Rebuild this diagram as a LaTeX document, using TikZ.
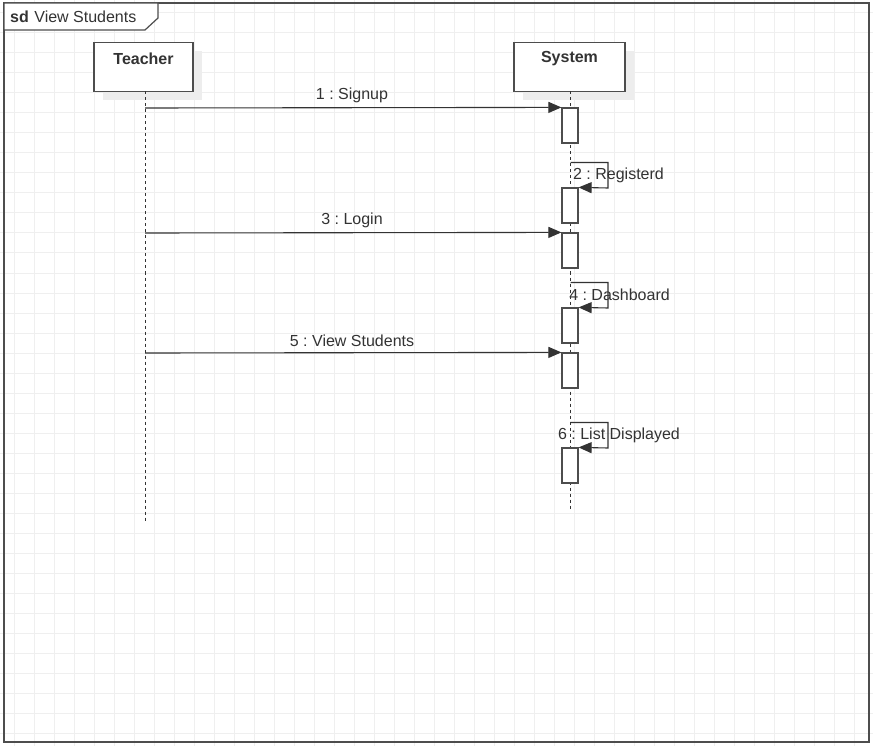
\documentclass[tikz,border=0pt]{standalone}
\usepackage{fontspec}
\setmainfont{Liberation Sans}
\usetikzlibrary{arrows.meta}
\definecolor{gridc}{HTML}{EFEFEF}
\definecolor{ink}{HTML}{333333}
\definecolor{framec}{HTML}{4D4D4D}
\definecolor{shadowc}{HTML}{EDEDED}
\frenchspacing
\begin{document}
\begin{tikzpicture}[x=1pt,y=-1pt,
  every node/.style={font=\fontsize{16pt}{19pt}\selectfont, text=ink},
  headbox/.style={draw=framec, line width=1.2pt, fill=white, minimum width=99pt, minimum height=49pt, inner sep=0pt},
  headshadow/.style={fill=shadowc, draw=none, minimum width=99pt, minimum height=49pt, inner sep=0pt},
  actbox/.style={draw=framec, line width=1.2pt, fill=white, minimum width=16pt, minimum height=35pt, inner sep=0pt},
  lifeline/.style={draw=ink, line width=1pt, dash pattern=on 3pt off 3pt},
  msg/.style={draw=ink, line width=1.1pt, -{Triangle[length=13pt,width=11pt]}},
  msglabel/.style={inner sep=0pt, anchor=center}
]
\useasboundingbox (0,0) rectangle (873,746);
\fill[white] (0,0) rectangle (873,746);
% background grid
\foreach \gx in {14,34,...,874} \draw[gridc, line width=1pt] (\gx,0) -- (\gx,746);
\foreach \gy in {13,33,...,746} \draw[gridc, line width=1pt] (0,\gy) -- (873,\gy);

% sequence frame with its name tab
\draw[framec, line width=1.5pt] (4,3) rectangle (869,742);
\draw[framec, line width=1.2pt, fill=white] (4,3) -- (158,3) -- (158,18) -- (145,30) -- (4,30) -- cycle;
\node[anchor=west, inner sep=0pt] (title) at (10,16.5) {\textbf{sd}\hspace{5.5pt}View Students};

% lifeline heads
\node[headshadow] at (152.5,76) {};
\node[headbox] (teacher) at (143.5,67) {};
\node[font=\fontsize{16pt}{19pt}\selectfont\bfseries, inner sep=0pt] (tlabel) at (143.5,59) {Teacher};
\node[headshadow, minimum width=111pt] at (578.5,76) {};
\node[headbox, minimum width=111pt] (system) at (569.5,67) {};
\node[font=\fontsize{16pt}{19pt}\selectfont\bfseries, inner sep=0pt] (slabel) at (569.5,59) {System};

% lifelines
\coordinate (tend) at (145,521);
\coordinate (send) at (570.5,510);
\draw[lifeline] (145,91.5) -- (tend);
\draw[lifeline] (570.5,91.5) -- (send);

% activation bars
\node[actbox] (a1) at (570,125.5) {};
\node[actbox] (a2) at (570,205.5) {};
\node[actbox] (a3) at (570,250.5) {};
\node[actbox] (a4) at (570,325.5) {};
\node[actbox] (a5) at (570,370.5) {};
\node[actbox] (a6) at (570,465.5) {};

% messages from Teacher
\coordinate (m1) at (145,108);
\coordinate (m3) at (145,233);
\coordinate (m5) at (145,353);
\draw[msg] (m1) -- (a1.north west);
\draw[msg] (m3) -- (a3.north west);
\draw[msg] (m5) -- (a5.north west);
\node[msglabel] (l1) at (352,95.5) {1 : Signup};
\node[msglabel] (l3) at (352,220.5) {3 : Login};
\node[msglabel] (l5) at (352,340.5) {5 : View Students};

% self messages on System
\coordinate (s2) at (570.5,162.5);
\coordinate (s4) at (570.5,282.5);
\coordinate (s6) at (570.5,422.5);
\draw[msg] (s2) -- (608,162.5) -- (608,188) -- (a2.north east);
\draw[msg] (s4) -- (608,282.5) -- (608,308) -- (a4.north east);
\draw[msg] (s6) -- (608,422.5) -- (608,448) -- (a6.north east);
\node[msglabel] (l2) at (618.5,175) {2 : Registerd};
\node[msglabel] (l4) at (619.5,295) {4 : Dashboard};
\node[msglabel] (l6) at (619,435) {6 : List Displayed};
\end{tikzpicture}
\end{document}
